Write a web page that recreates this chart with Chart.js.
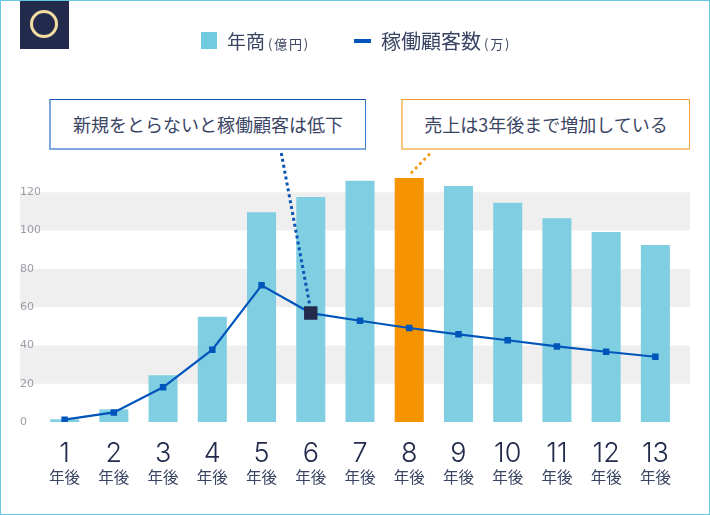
<!DOCTYPE html>
<html lang="ja"><head><meta charset="utf-8">
<script src="https://cdn.jsdelivr.net/npm/chart.js@4"></script>
<style>
html,body{margin:0;padding:0;background:#fff}
#frame{position:relative;width:710px;height:515px;overflow:hidden;font-family:"Noto Sans CJK JP",sans-serif;color:#3a4463}
#frame:after{content:"";position:absolute;inset:0;border:1px solid #66c8df;pointer-events:none}
canvas{position:absolute;left:0;top:0}
#badge{position:absolute;left:20px;top:0;width:49px;height:49px;background:#222b4b}
#badge i{position:absolute;left:10px;top:10px;width:22px;height:22px;border:3.5px solid #f5dca3;border-radius:50%}
.t{position:absolute;white-space:nowrap;line-height:1}
.t small{font-size:13px;letter-spacing:1.8px;margin-left:3px}
#sw{position:absolute;left:201px;top:32px;width:16px;height:17px;background:#70cae0}
#ln{position:absolute;left:354px;top:39px;width:17px;height:4px;background:#0055bb}
.box{position:absolute;top:99px;height:51px;box-sizing:border-box;background:#fff;font-size:18px;display:flex;align-items:center;justify-content:center;white-space:nowrap}
#b1{left:49px;width:317px;border-style:solid;border-width:1px 1.5px 2px 2px;border-color:#1253ad #3a78cc #7ea8e2 #7ea8e2}
#b2{left:401px;width:289px;border-style:solid;border-width:1px 1.5px 2px 2px;border-color:#f0992a #f5a33c #f9c77f #f9c77f}
</style></head><body>
<div id="frame">
<canvas id="c" width="710" height="515"></canvas>
<div id="badge"><i></i></div>
<div id="sw"></div><div class="t" style="left:227px;top:31px;font-size:19px" id="l1"></div>
<div id="ln"></div><div class="t" style="left:381px;top:31px;font-size:20px" id="l2"></div>
<div class="box" id="b1"></div><div class="box" id="b2"></div>
</div>
<script>
const years = ["1","2","3","4","5","6","7","8","9","10","11","12","13"];
const yearUnit = ["年後","年後","年後","年後","年後","年後","年後","年後","年後","年後","年後","年後","年後"];
const revenue = [1.4,6.6,24.4,55,109.6,117.5,126,127.5,123.3,114.5,106.5,99.2,92.4];
const customers = [1.2,5,18.1,37.8,71.4,56.9,52.9,49.1,45.8,42.7,39.5,36.7,34.1];
const yTicks = [0,20,40,60,80,100,120];
const shadedBands = [[20,40],[60,80],[100,120]];
const seriesNames = ["年商","稼働顧客数"];
const seriesUnits = ["(億円)","(万)"];
const calloutTexts = ["新規をとらないと稼働顧客は低下","売上は3年後まで増加している"];
const highlightBar = 7, highlightPoint = 5;

document.getElementById('l1').innerHTML = seriesNames[0]+'<small>'+seriesUnits[0]+'</small>';
document.getElementById('l2').innerHTML = seriesNames[1]+'<small>'+seriesUnits[1]+'</small>';
document.getElementById('b1').textContent = calloutTexts[0];
document.getElementById('b2').textContent = calloutTexts[1];

const bands = {id:'bands',beforeDraw(ch){
  const {ctx,chartArea:a,scales:{y}}=ch;ctx.save();ctx.fillStyle='#efefef';
  shadedBands.forEach(([lo,hi])=>{const t=y.getPixelForValue(hi),b=y.getPixelForValue(lo);ctx.fillRect(a.left-20,t,a.right-a.left+30,b-t);});
  ctx.restore();}};
const connectors = {id:'connectors',afterDatasetsDraw(ch){
  const ctx=ch.ctx;
  const p=ch.getDatasetMeta(0).data[highlightPoint], b=ch.getDatasetMeta(1).data[highlightBar];
  ctx.save();ctx.lineWidth=3;ctx.setLineDash([3,3]);
  ctx.strokeStyle='#0b55b5';ctx.beginPath();ctx.moveTo(p.x-29.5,153);ctx.lineTo(p.x-1,p.y-8);ctx.stroke();
  ctx.lineCap='round';ctx.lineWidth=3;ctx.setLineDash([.1,6]);
  ctx.strokeStyle='#f59300';ctx.beginPath();ctx.moveTo(b.x+19.7,154.7);ctx.lineTo(b.x+2.5,b.y-5.5);ctx.stroke();
  ctx.restore();}};

new Chart(document.getElementById('c'),{
  data:{labels:years,datasets:[
    {type:'line',order:1,data:customers,borderColor:'#0055bb',borderWidth:2.2,tension:0,
     pointStyle:'rect',
     pointRadius:customers.map((_,i)=>i===highlightPoint?9.5:4.6),
     pointBackgroundColor:customers.map((_,i)=>i===highlightPoint?'#222b4b':'#0055bb'),
     pointBorderWidth:0},
    {type:'bar',order:2,data:revenue,
     backgroundColor:revenue.map((_,i)=>i===highlightBar?'#f59300':'#80cee2'),
     barPercentage:.59,categoryPercentage:1,borderWidth:0}
  ]},
  options:{responsive:false,animation:false,devicePixelRatio:1,
    layout:{padding:{left:20,right:30,top:154,bottom:25}},
    events:[],
    plugins:{legend:{display:false},tooltip:{enabled:false}},
    scales:{
      x:{type:'category',position:'bottom',offset:true,weight:0,grid:{display:false},border:{display:false},
         ticks:{autoSkip:false,maxRotation:0,minRotation:0,padding:10,color:'#222b4b',
                font:{family:'Inter',weight:300,size:27,lineHeight:1}},
         afterFit(s){s.height=43;}},
      x2:{type:'category',position:'bottom',axis:'x',labels:yearUnit,offset:true,weight:1,grid:{display:false},border:{display:false},
         ticks:{autoSkip:false,maxRotation:0,minRotation:0,padding:-5,color:'#3a4463',
                font:{family:'"Noto Sans CJK JP"',size:15.5,lineHeight:1.2}},
         afterFit(s){s.height=25;}},
      y:{min:0,max:140,position:'left',grid:{display:false},border:{display:false},
         afterBuildTicks(s){s.ticks=yTicks.map(v=>({value:v}));},
         ticks:{crossAlign:'far',padding:0,color:'#9a9ca8',font:{family:'"DejaVu Sans"',size:11}},
         afterFit(s){s.width=20;}}
    }
  },
  plugins:[bands,connectors]
});
</script>
</body></html>
